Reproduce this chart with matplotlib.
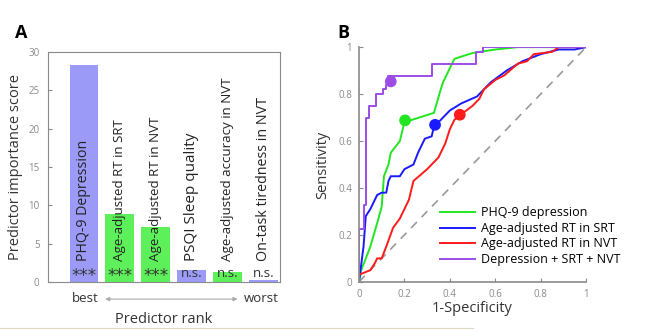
import matplotlib.pyplot as plt
from matplotlib.lines import Line2D

plt.rcParams['font.family'] = ['Open Sans', 'DejaVu Sans']

# panel A data
predictors = ["PHQ-9 Depression", "Age-adjusted RT in SRT", "Age-adjusted RT in NVT",
              "PSQI Sleep quality", "Age-adjusted accuracy in NVT", "On-task tiredness in NVT"]
scores = [28.3, 8.9, 7.1, 1.6, 1.3, 0.2]
signif = ["***", "***", "***", "n.s.", "n.s.", "n.s."]
bar_colors = ["#9b9bf7", "#5ef05a", "#5ef05a", "#9b9bf7", "#5ef05a", "#9b9bf7"]
label_sizes = [10.2, 9.6, 9.6, 11, 9.6, 10.3]

# panel B data (1-specificity, sensitivity)
phq_x = [0, 0.01, 0.03, 0.05, 0.08, 0.10, 0.11, 0.13, 0.14, 0.18, 0.2, 0.33, 0.36, 0.37, 0.42, 0.5, 0.6, 0.7, 1.0]
phq_y = [0, 0.05, 0.10, 0.15, 0.25, 0.32, 0.45, 0.50, 0.55, 0.60, 0.68, 0.72, 0.82, 0.85, 0.95, 0.975, 0.99, 1.0, 1.0]
srt_x = [0, 0.02, 0.03, 0.05, 0.08, 0.1, 0.12, 0.13, 0.14, 0.18, 0.2, 0.24, 0.26, 0.29, 0.32, 0.33, 0.4, 0.45,
         0.52, 0.58, 0.65, 0.72, 0.8, 0.88, 0.95, 1.0]
srt_y = [0, 0.15, 0.28, 0.31, 0.37, 0.38, 0.38, 0.43, 0.45, 0.45, 0.48, 0.50, 0.55, 0.61, 0.62, 0.66, 0.73, 0.76,
         0.79, 0.85, 0.90, 0.94, 0.97, 0.99, 0.99, 1.0]
nvt_x = [0, 0.05, 0.07, 0.08, 0.1, 0.12, 0.15, 0.18, 0.2, 0.22, 0.24, 0.3, 0.35, 0.38, 0.4, 0.42, 0.445, 0.5,
         0.53, 0.55, 0.6, 0.64, 0.7, 0.74, 0.77, 0.85, 0.88, 1.0]
nvt_y = [0.03, 0.05, 0.08, 0.10, 0.10, 0.15, 0.23, 0.27, 0.31, 0.35, 0.43, 0.48, 0.53, 0.59, 0.65, 0.69, 0.71, 0.75,
         0.78, 0.82, 0.86, 0.88, 0.93, 0.94, 0.97, 0.98, 1.0, 1.0]
comb_x = [0, 0, 0.022, 0.022, 0.03, 0.03, 0.045, 0.045, 0.075, 0.075, 0.105, 0.105, 0.12, 0.12, 0.13, 0.13,
          0.17, 0.17, 0.32, 0.32, 0.515, 0.515, 0.545, 0.545, 1.0]
comb_y = [0, 0.227, 0.227, 0.326, 0.326, 0.70, 0.70, 0.75, 0.75, 0.80, 0.80, 0.82, 0.82, 0.84, 0.84, 0.875,
          0.875, 0.875, 0.875, 0.928, 0.928, 0.978, 0.978, 1.0, 1.0]
opt_x = [0.203, 0.335, 0.444, 0.14]
opt_y = [0.688, 0.669, 0.712, 0.854]
roc_labels = ["PHQ-9 depression", "Age-adjusted RT in SRT", "Age-adjusted RT in NVT", "Depression + SRT + NVT"]
roc_colors = ["#22e622", "#1a1aff", "#ff1a1a", "#9b4de6"]

fig = plt.figure(figsize=(6.66, 3.32), dpi=100)
grey = "#8a8a8a"
txt = "#333333"

# ---- panel A
ax = fig.add_axes([0.072, 0.151, 0.348, 0.692])
xs = list(range(1, len(scores) + 1))
ax.bar(xs, scores, width=0.8, color=bar_colors)
ax.set_xlim(0, 6.45)
ax.set_ylim(0, 30)
ax.set_yticks(range(0, 31, 5))
ax.set_xticks([])
ax.tick_params(axis='y', direction='in', length=3, colors=grey, labelsize=7, pad=6)
for s in ax.spines.values():
    s.set_color(grey)
ax.set_ylabel("Predictor importance score", fontsize=10.5, color=txt, labelpad=4)
for x, name, sig, fs in zip(xs, predictors, signif, label_sizes):
    ax.text(x, 2.7, name, rotation=90, ha='center', va='bottom', fontsize=fs, color="#222222")
    if sig == "***":
        ax.text(x, 0.75, sig, ha='center', va='center', fontsize=12, color=txt,
                family='DejaVu Sans')
    else:
        ax.text(x, 0.2, sig, ha='center', va='bottom', fontsize=9.5, color=txt)
ax.text(0.16, -0.045, "best", transform=ax.transAxes, ha='center', va='top', fontsize=9.5, color=txt)
ax.text(0.92, -0.045, "worst", transform=ax.transAxes, ha='center', va='top', fontsize=9.5, color=txt)
ax.annotate("", xy=(0.83, -0.075), xytext=(0.235, -0.075), xycoords='axes fraction',
            arrowprops=dict(arrowstyle='<|-|>', color="#aaaaaa", lw=0.8, mutation_scale=6))
ax.text(0.5, -0.13, "Predictor rank", transform=ax.transAxes, ha='center', va='top', fontsize=10.5,
        color=txt)
fig.text(0.022, 0.885, "A", fontsize=13, fontweight='bold')

# ---- panel B
bx = fig.add_axes([0.539, 0.151, 0.341, 0.707])
bx.plot([0, 1], [0, 1], ls=(0, (5, 4)), color="#999999", lw=1.2)
curves = [(phq_x, phq_y), (srt_x, srt_y), (nvt_x, nvt_y), (comb_x, comb_y)]
for (cx, cy), c in zip(curves, roc_colors):
    bx.plot(cx, cy, color=c, lw=1.4)
bx.scatter(opt_x, opt_y, s=55, c=roc_colors, zorder=3)
bx.set_xlim(0, 1)
bx.set_ylim(0, 1)
ticks = [0, 0.2, 0.4, 0.6, 0.8, 1]
tick_text = ["0", "0.2", "0.4", "0.6", "0.8", "1"]
bx.set_xticks(ticks)
bx.set_xticklabels(tick_text)
bx.set_yticks(ticks)
bx.set_yticklabels(tick_text)
bx.tick_params(direction='in', length=3, colors=grey, labelsize=7, pad=5)
for k in ['top', 'right']:
    bx.spines[k].set_visible(False)
for k in ['left', 'bottom']:
    bx.spines[k].set_color(grey)
    bx.spines[k].set_linewidth(1.2)
bx.set_xlabel("1-Specificity", fontsize=10.5, color=txt, labelpad=1)
bx.set_ylabel("Sensitivity", fontsize=10.5, color=txt, labelpad=6)
handles = [Line2D([], [], color=c, lw=1.4) for c in roc_colors]
bx.legend(handles, roc_labels, loc='lower right', bbox_to_anchor=(1.2, 0.02), frameon=False,
          fontsize=9, handlelength=2.8, handletextpad=0.5, labelspacing=0.2)
fig.text(0.507, 0.885, "B", fontsize=13, fontweight='bold')

fig.add_artist(Line2D([0.0, 0.71], [0.012, 0.012], color="#ddd8c4", lw=0.8))

fig.savefig("out.png", dpi=100)
